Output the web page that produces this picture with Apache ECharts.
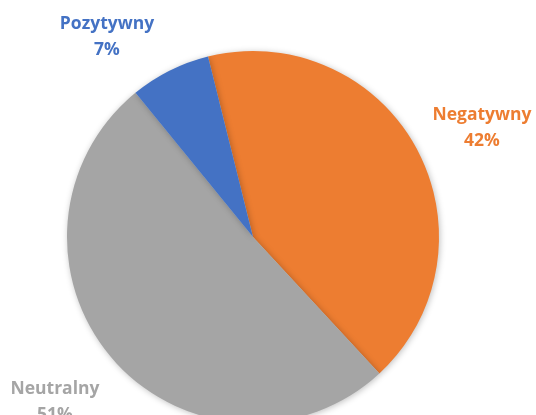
<!DOCTYPE html>
<html>
<head>
<meta charset="utf-8">
<script src="https://cdn.jsdelivr.net/npm/echarts@6/dist/echarts.min.js"></script>
<style>
  html, body { margin: 0; padding: 0; background: #fff; }
  #chart { width: 536px; height: 415px; }
</style>
</head>
<body>
<div id="chart"></div>
<script>
// data
const categories = ["Negatywny", "Neutralny", "Pozytywny"];
const values = [42, 51, 7];
const colors = ["#ED7D31", "#A5A5A5", "#4472C4"];

// label anchor positions (px)
const labelPos = [
  [482, 128],
  [55, 402],
  [107, 37],
];

const chart = echarts.init(document.getElementById("chart"));

const option = {
  animation: false,
  series: [
    {
      type: "pie",
      center: [253, 237],
      radius: 186,
      startAngle: 104,
      clockwise: true,
      data: categories.map((name, i) => ({
        name: name,
        value: values[i],
        itemStyle: { color: colors[i] },
        label: { color: colors[i] },
      })),
      itemStyle: {
        shadowBlur: 6,
        shadowColor: "rgba(0,0,0,0.25)",
        shadowOffsetX: 1,
        shadowOffsetY: 1,
      },
      label: {
        show: true,
        position: "outside",
        formatter: "{b}\n{d}%",
        fontFamily: "Open Sans",
        fontWeight: "bold",
        fontSize: 17.5,
        lineHeight: 26,
        align: "center",
        overflow: "none",
      },
      labelLine: { show: false },
      labelLayout: (params) => ({
        x: labelPos[params.dataIndex][0],
        y: labelPos[params.dataIndex][1],
        align: "center",
        verticalAlign: "middle",
      }),
    },
  ],
};

chart.setOption(option);
</script>
</body>
</html>
